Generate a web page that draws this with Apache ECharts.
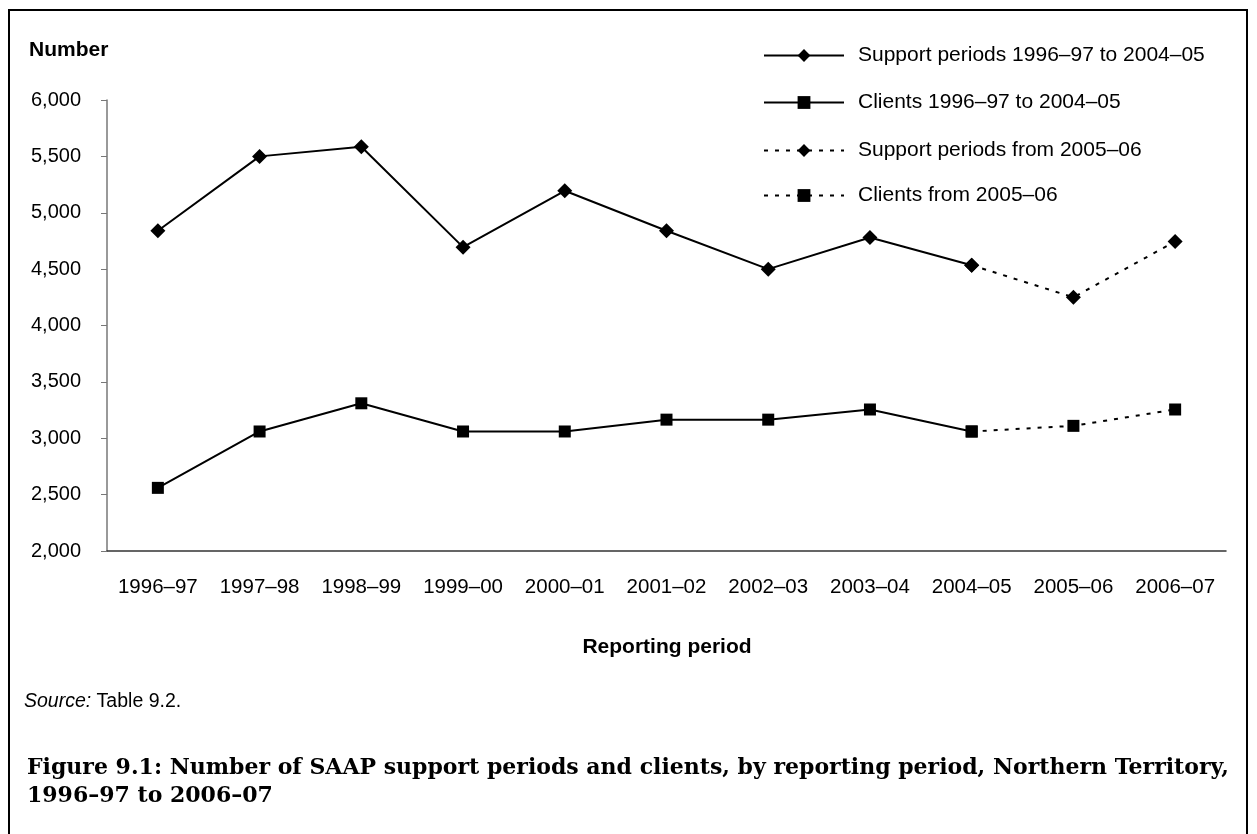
<!DOCTYPE html>
<html>
<head>
<meta charset="utf-8">
<script src="https://cdn.jsdelivr.net/npm/echarts@6/dist/echarts.min.js"></script>
<style>
html,body{margin:0;padding:0;background:#fff;}
#chart{width:1257px;height:834px;}
</style>
</head>
<body>
<div id="chart"></div>
<script>
const categories = ['1996–97','1997–98','1998–99','1999–00','2000–01','2001–02','2002–03','2003–04','2004–05','2005–06','2006–07'];
const supportPeriodsHist = [4840, 5500, 5585, 4695, 5195, 4840, 4500, 4780, 4535, null, null];
const clientsHist = [2560, 3060, 3310, 3060, 3060, 3165, 3165, 3255, 3060, null, null];
const supportPeriodsNew = [null, null, null, null, null, null, null, null, 4535, 4250, 4745];
const clientsNew = [null, null, null, null, null, null, null, null, 3060, 3110, 3255];
const seriesNames = ['Support periods 1996–97 to 2004–05','Clients 1996–97 to 2004–05','Support periods from 2005–06','Clients from 2005–06'];
const yTicks = {min: 2000, max: 6000, interval: 500};

const chart = echarts.init(document.getElementById('chart'), null, {renderer: 'canvas'});
const sans = 'Liberation Sans, Arial, sans-serif';
const dotted = [4, 7];

function mkSeries(name, data, symbol, size, dashed) {
  return {
    name: name, type: 'line', data: data, symbol: symbol, symbolSize: size,
    showAllSymbol: true, connectNulls: false, animation: false,
    itemStyle: {color: '#000'},
    lineStyle: {color: '#000', width: 2, type: dashed ? dotted : 'solid'},
    emphasis: {disabled: true}
  };
}
function mkLegend(name, top) {
  return {
    data: [name], left: 763, top: top, padding: 0, itemWidth: 80, itemHeight: 16,
    selectedMode: false,
    textStyle: {fontFamily: sans, fontSize: 21, color: '#000', padding: [0, 0, 0, 9]}
  };
}

const option = {
  backgroundColor: '#fff',
  animation: false,
  grid: {left: 107, right: 31, top: 100, bottom: 283, containLabel: false},
  legend: [
    mkLegend(seriesNames[0], 53 - 8),
    mkLegend(seriesNames[1], 100 - 8),
    mkLegend(seriesNames[2], 148 - 8),
    mkLegend(seriesNames[3], 193 - 8)
  ],
  xAxis: {
    type: 'category', data: categories, boundaryGap: true,
    axisLine: {lineStyle: {color: '#333', width: 1.5}},
    axisTick: {alignWithLabel: true, length: 6, lineStyle: {color: '#666'}},
    axisLabel: {fontFamily: sans, fontSize: 20.5, color: '#000', margin: 26, interval: 0},
    splitLine: {show: false}
  },
  yAxis: {
    type: 'value', min: yTicks.min, max: yTicks.max, interval: yTicks.interval,
    axisLine: {show: true, lineStyle: {color: '#777', width: 1.5}},
    axisTick: {show: true, length: 6, lineStyle: {color: '#777'}},
    axisLabel: {fontFamily: sans, fontSize: 20, color: '#000', margin: 26,
      formatter: v => v.toLocaleString('en-US')},
    splitLine: {show: false}
  },
  series: [
    mkSeries(seriesNames[0], supportPeriodsHist, 'diamond', 15, false),
    mkSeries(seriesNames[1], clientsHist, 'rect', 12, false),
    mkSeries(seriesNames[2], supportPeriodsNew, 'diamond', 15, true),
    mkSeries(seriesNames[3], clientsNew, 'rect', 12, true)
  ],
  graphic: [
    {type: 'rect', shape: {x: 9, y: 10, width: 1238, height: 840}, style: {fill: null, stroke: '#000', lineWidth: 2}, silent: true},
    {type: 'text', left: 29, top: 40, style: {text: 'Number', font: 'bold 21px ' + sans, fill: '#000'}},
    {type: 'text', x: 667, y: 647, style: {text: 'Reporting period', font: 'bold 21px ' + sans, fill: '#000', align: 'center', verticalAlign: 'middle'}},
    {type: 'text', x: 24, y: 702, style: {
      text: '{i|Source:} Table 9.2.', verticalAlign: 'middle', fill: '#000',
      font: '19.5px ' + sans,
      rich: {i: {fontStyle: 'italic', fontFamily: sans, fontSize: 19.5, fill: '#000'}}
    }},
    {type: 'text', x: 27, y: 768, style: {text: 'Figure 9.1: Number of SAAP support periods and clients, by reporting period, Northern Territory,', font: 'bold 22px DejaVu Serif, serif', fill: '#000', verticalAlign: 'middle'}},
    {type: 'text', x: 27, y: 796, style: {text: '1996–97 to 2006–07', font: 'bold 22px DejaVu Serif, serif', fill: '#000', verticalAlign: 'middle'}}
  ]
};
chart.setOption(option);
</script>
</body>
</html>
